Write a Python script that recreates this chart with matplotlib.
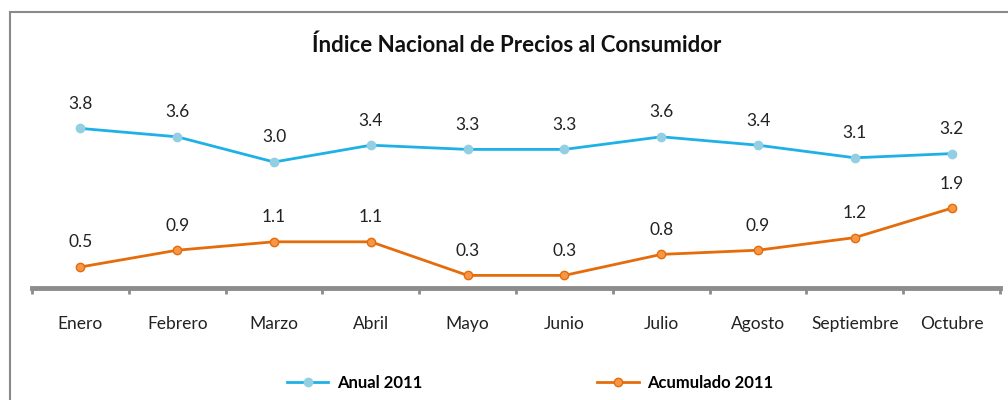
import matplotlib.pyplot as plt
import matplotlib.patches as patches
import numpy as np

meses = ['Enero', 'Febrero', 'Marzo', 'Abril', 'Mayo', 'Junio',
         'Julio', 'Agosto', 'Septiembre', 'Octubre']
anual = [3.8, 3.6, 3.0, 3.4, 3.3, 3.3, 3.6, 3.4, 3.1, 3.2]
acumulado = [0.5, 0.9, 1.1, 1.1, 0.3, 0.3, 0.8, 0.9, 1.2, 1.9]

plt.rcParams['font.family'] = ['Lato', 'DejaVu Sans']

fig = plt.figure(figsize=(10.08, 4.0), dpi=100)
fig.patch.set_facecolor('white')

# marco gris del grafico (se sale por la derecha y abajo)
fig.patches.append(patches.Rectangle((10 / 1008, -0.1), 1.2, (388 + 40) / 400,
                                     transform=fig.transFigure, fill=False,
                                     edgecolor='#8a8a8a', linewidth=1.5))

ax = fig.add_axes([32 / 1008, 112 / 400, 968 / 1008, 189 / 400])
x = np.arange(len(meses))

ax.plot(x, anual, color='#1eb1e6', linewidth=2, marker='o', markersize=6,
        markerfacecolor='#93cfe3', markeredgecolor='#93cfe3', label='Anual 2011')
ax.plot(x, acumulado, color='#e46c0a', linewidth=2, marker='o', markersize=6,
        markerfacecolor='#f79646', markeredgecolor='#e46c0a', label='Acumulado 2011')

for xi, v in zip(x, anual):
    ax.annotate(f'{v:.1f}', (xi, v), xytext=(0, 12), textcoords='offset points',
                ha='center', va='bottom', fontsize=12.5, color='#222222')
for xi, v in zip(x, acumulado):
    ax.annotate(f'{v:.1f}', (xi, v), xytext=(0, 12), textcoords='offset points',
                ha='center', va='bottom', fontsize=12.5, color='#222222')

ax.set_xlim(-0.5, len(meses) - 0.5)
ax.set_ylim(0, 4.5)
ax.set_xticks(x)
ax.set_xticklabels(meses, fontsize=12.5, color='#222222')
ax.set_xticks(np.arange(-0.5, len(meses)), minor=True)
ax.tick_params(axis='x', which='major', length=0, pad=20)
ax.tick_params(axis='x', which='minor', length=4, width=2, color='#8c8c8c')
ax.set_yticks([])
for s in ['top', 'right', 'left']:
    ax.spines[s].set_visible(False)
ax.spines['bottom'].set_color('#8c8c8c')
ax.spines['bottom'].set_linewidth(3.5)

fig.text(517 / 1008, 1 - 45 / 400, 'Índice Nacional de Precios al Consumidor',
         ha='center', va='center', fontsize=16, fontweight='bold', color='#111111')

leg = fig.legend(loc='center', bbox_to_anchor=(530 / 1008, 17 / 400), ncol=2,
                 frameon=False, columnspacing=10.5, handlelength=2.5,
                 handletextpad=0.5, prop={'weight': 'bold', 'size': 12})

fig.savefig('out.png', dpi=100)
